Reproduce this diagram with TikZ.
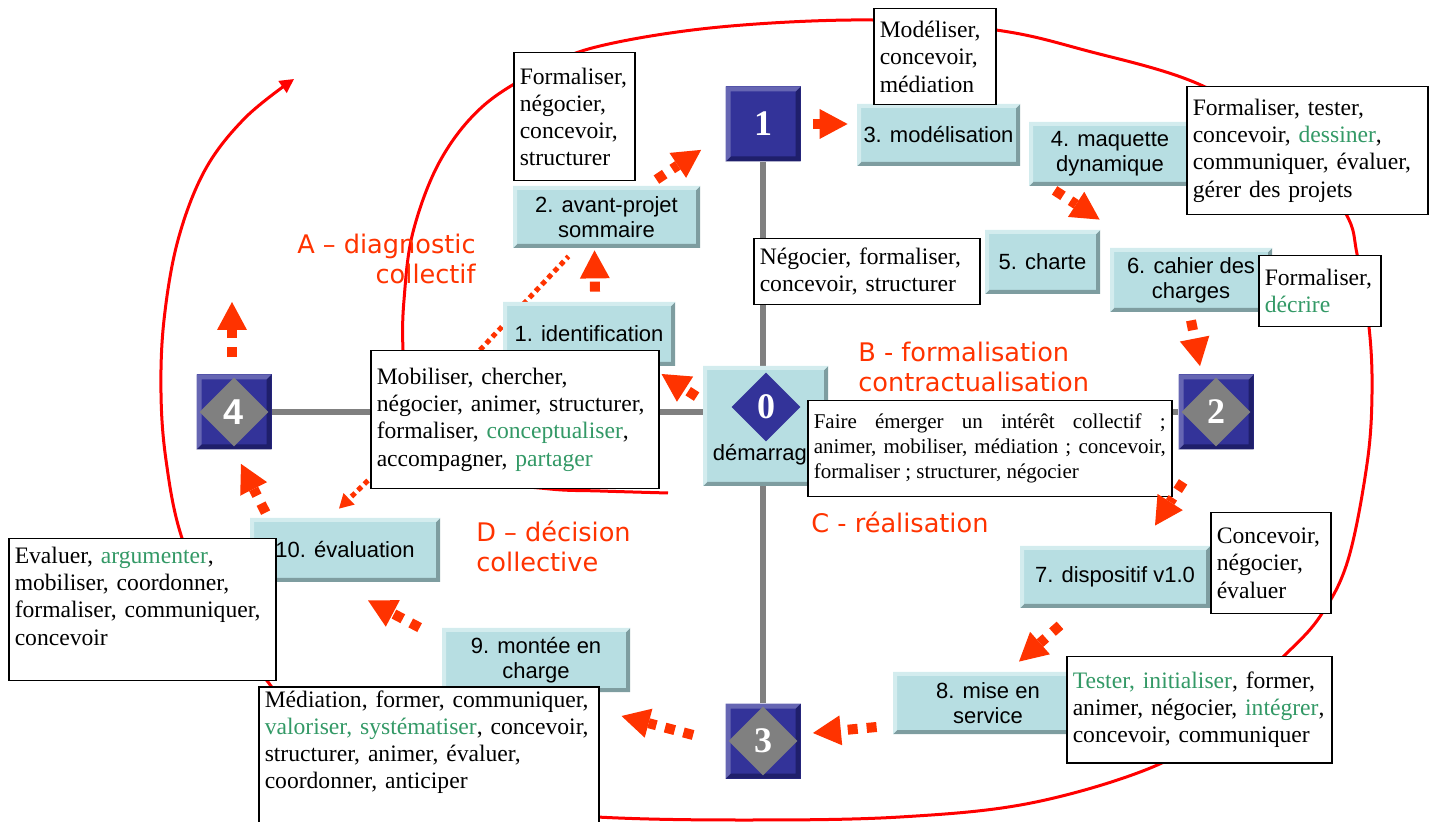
\documentclass[tikz,border=0pt]{standalone}
\usepackage{fontspec}
\setmainfont{Liberation Serif}
\setsansfont{Liberation Sans}
\newfontfamily\phasefont{DejaVu Sans}
\usetikzlibrary{positioning,shapes.geometric,arrows.meta}

\definecolor{navy}{HTML}{333399}
\definecolor{navylight}{HTML}{6666B3}
\definecolor{navydark}{HTML}{1F1F6B}
\definecolor{aqua}{HTML}{B7DEE2}
\definecolor{aqualight}{HTML}{D3ECEE}
\definecolor{aquadark}{HTML}{7E9DA0}
\definecolor{rouge}{HTML}{FF3300}
\definecolor{vert}{HTML}{339966}
\definecolor{gris}{HTML}{808080}

\tikzset{
  bevel/.style n args={3}{path picture={
    \path (path picture bounding box.south west) coordinate (bl)
          (path picture bounding box.north east) coordinate (tr)
          (bl -| tr) coordinate (br) (bl |- tr) coordinate (tl);
    \fill[#2] (bl) -- (br) -- (tr) -- ([shift={(-#3,-#3)}]tr)
      -- ([shift={(-#3,#3)}]br) -- ([shift={(#3,#3)}]bl) -- cycle;
    \fill[#1] (bl) -- (tl) -- (tr) -- ([shift={(-#3,-#3)}]tr)
      -- ([shift={(#3,-#3)}]tl) -- ([shift={(#3,#3)}]bl) -- cycle;
  }},
}

\begin{document}
\begin{tikzpicture}[x=0.5pt, y=-0.5pt,
    carre/.style={fill=navy, bevel={navylight}{navydark}{2.5pt}, minimum size=37.5pt,
      inner sep=0pt, text=white, font=\bfseries\fontsize{18}{18}\selectfont},
    losange/.style={diamond, fill=gris, minimum size=34.5pt, inner sep=0pt,
      text=white, font=\bfseries\fontsize{18}{18}\selectfont},
    etape/.style={fill=aqua, bevel={aqualight}{aquadark}{2pt}, inner sep=0pt,
      align=center, font=\sffamily\fontsize{11}{12.5}\selectfont},
    txtbox/.style={draw, line width=0.75pt, fill=white, anchor=north west, align=left,
      inner xsep=3pt, inner ysep=2pt, font=\fontsize{11.8}{13.6}\selectfont},
    phase/.style={text=rouge, inner sep=0pt, font=\phasefont\fontsize{12.8}{15}\selectfont},
    flux/.style={rouge, line width=5pt, dash pattern=on 5pt off 4.5pt,
      -{Triangle[length=14pt, width=15pt, line width=0pt]}},
    pointille/.style={rouge, line width=2.5pt, dash pattern=on 2.5pt off 2pt},
    ligne/.style={gris, line width=3pt},
    spirale/.style={red, line width=1.5pt, -{Triangle[length=7pt, width=7pt]}}]
  \useasboundingbox (0,0) rectangle (1434,822);
  \clip (0,0) rectangle (1434,822);

  \draw[spirale] plot[smooth, tension=0.6] coordinates {(668,493) (600,491) (550,489)
    (480,479) (430,452) (408,405) (403,350) (404,300) (413,232) (440,161) (482,107)
    (540,70) (600,46) (720,27) (872,20) (996,30) (1084,50) (1203,86) (1300,150)
    (1346,214) (1357,254) (1369,327) (1372,393) (1367,464) (1348,560) (1321,615)
    (1285,655) (1220,715) (1164,762) (1036,802) (900,817) (740,820) (597,817)
    (480,806) (370,765) (300,725) (268,682) (215,615) (181,535) (166,460) (161,393)
    (164,320) (178,240) (205,170) (245,118) (294,79)};

  \node[carre] (s1) at (763,124) {1};
  \node[carre] (s4) at (234,412) {};
  \node[carre] (s2) at (1216,412) {};
  \node[carre] (s3) at (763,741) {};
  \draw[ligne] (s1) -- (s3);
  \draw[ligne] (s4) -- (s2);
  \node[losange] (d4) at (s4) {\sffamily 4};
  \node[losange] (d2) at (s2) {2};
  \node[losange] (d3) at (s3) {3};

  \node[etape, minimum width=62.5pt, minimum height=60pt] (t0) at (765.5,426) {};
  \node[losange, fill=navy] (d0) at (766,407) {0};
  \node[font=\sffamily\fontsize{11}{12.5}\selectfont, inner sep=0pt] (demarrage)
    at (766,455) {démarrage};

  \node[etape, minimum width=93.5pt, minimum height=31pt] (t2) at (606.5,217) {2. avant-projet\\sommaire};
  \coordinate (pied) at (480,350);
  \draw[pointille] (pied) -- ([xshift=-19pt,yshift=-4pt]t2.south);
  \node[etape, minimum width=86pt, minimum height=32pt] (t1) at (589,334) {1. identification};
  \node[etape, minimum width=81.5pt, minimum height=31pt] (t3) at (938.5,135) {3. modélisation};
  \node[etape, minimum width=81pt, minimum height=32pt] (t4) at (1110,154) {4. maquette\\dynamique};
  \node[etape, minimum width=57.5pt, minimum height=32pt] (t5) at (1042.5,262) {5. charte};
  \node[etape, minimum width=81pt, minimum height=32pt] (t6) at (1191,280) {6. cahier des\\charges};
  \node[etape, minimum width=95pt, minimum height=31pt] (t7) at (1115,577) {7. dispositif v1.0};
  \node[etape, minimum width=95pt, minimum height=31pt] (t8) at (988,703) {8. mise en\\service};
  \node[etape, minimum width=94pt, minimum height=32pt] (t9) at (536,660) {9. montée en\\charge};
  \node[etape, minimum width=95pt, minimum height=32pt] (t10) at (345,550) {10. évaluation};

  \node[txtbox, text width=54.5pt, minimum height=64pt] (w1) at (513,52)
    {Formaliser,\\négocier,\\concevoir,\\structurer};
  \node[txtbox, text width=55pt, minimum height=48pt] (w2) at (873,8)
    {Modéliser,\\concevoir,\\médiation};
  \node[txtbox, text width=114.5pt, minimum height=64pt] (w3) at (1186,86)
    {Formaliser, tester,\\concevoir, \textcolor{vert}{dessiner},\\communiquer, évaluer,\\gérer des projets};
  \node[txtbox, text width=107pt, minimum height=33pt] (w4) at (753,238)
    {Négocier, formaliser,\\concevoir, structurer};
  \node[txtbox, text width=55pt, minimum height=35.5pt] (w5) at (1258,255)
    {Formaliser,\\\textcolor{vert}{décrire}};
  \node[txtbox, text width=138pt, minimum height=69pt] (w6) at (370,350)
    {Mobiliser, chercher,\\négocier, animer, structurer,\\formaliser, \textcolor{vert}{conceptualiser},\\accompagner, \textcolor{vert}{partager}};
  \node[txtbox, text width=176pt, minimum height=48pt, align=justify,
    font=\fontsize{10.5}{12.5}\selectfont] (w7) at (807,400)
    {Faire émerger un intérêt collectif ;\linebreak animer, mobiliser, médiation ; concevoir,\linebreak formaliser ; structurer, négocier};
  \node[txtbox, text width=54pt, minimum height=50.5pt] (w8) at (1210,512)
    {Concevoir,\\négocier,\\évaluer};
  \node[txtbox, text width=126.5pt, minimum height=53pt] (w9) at (1066,656)
    {\textcolor{vert}{Tester, initialiser}, former,\\animer, négocier, \textcolor{vert}{intégrer},\\concevoir, communiquer};
  \node[txtbox, text width=127.5pt, minimum height=71pt] (w10) at (8,538)
    {Evaluer, \textcolor{vert}{argumenter},\\mobiliser, coordonner,\\formaliser, communiquer,\\concevoir\\\mbox{}};
  \node[txtbox, text width=164pt] (w11) at (258,686)
    {Médiation, former, communiquer,\\\textcolor{vert}{valoriser, systématiser}, concevoir,\\structurer, animer, évaluer,\\coordonner, anticiper\\\mbox{}\\\mbox{}};

  \node[phase, anchor=east, align=right] (phaseA) at (476,259) {A – diagnostic\\collectif};
  \node[phase, anchor=west, align=left] (phaseB) at (858,367) {B - formalisation\\contractualisation};
  \node[phase, anchor=west] (phaseC) at (811,522) {C - réalisation};
  \node[phase, anchor=west, align=left] (phaseD) at (476,546) {D – décision\\collective};

  \draw[flux, shorten <=6pt, shorten >=4.5pt] (s1.east) -- (s1.east -| t3.west);
  \draw[flux] ([xshift=-22pt,yshift=3pt]t2.north east) -- ([xshift=-12pt,yshift=6pt]s1.south west);
  \draw[flux] ([xshift=3pt,yshift=5pt]t1.north) -- ([xshift=-6pt,yshift=-1pt]t2.south);
  \draw[flux] ([xshift=-3pt,yshift=-15.5pt]t0.north west) -- ([xshift=1pt,yshift=-12pt]w6.north east);
  \draw[flux] ([xshift=13pt,yshift=-2pt]t4.south west) -- ([xshift=-5pt,yshift=14pt]t6.north west);
  \draw[flux] ([yshift=-4pt]t6.south) -- ([xshift=-8pt,yshift=4pt]s2.north);
  \draw[flux] ([xshift=2.5pt,yshift=-16pt]s2.south west) -- ([xshift=20pt,yshift=10pt]t7.north);
  \draw[flux] ([xshift=-27.5pt,yshift=-8.5pt]t7.south) -- ([xshift=15.5pt,yshift=5pt]t8.north);
  \draw[flux] ([xshift=-8pt,yshift=-12pt]t8.west) -- ([xshift=6pt,yshift=4pt]s3.east);
  \draw[flux] ([xshift=-16pt,yshift=3pt]s3.west) -- ([xshift=11pt,yshift=-15pt]w11.north east);
  \draw[flux] ([xshift=-11pt]t9.north west) -- ([xshift=11.5pt,yshift=-9pt]t10.south);
  \draw[flux] ([xshift=8pt,yshift=2.5pt]t10.north west) -- ([xshift=3.5pt,yshift=-7pt]s4.south);
  \coordinate (haut) at (232,302);
  \draw[flux] ([xshift=-1pt,yshift=8.5pt]s4.north) -- (haut);
  \draw[pointille, -{Triangle[length=7pt, width=8pt, line width=0pt]}]
    ([xshift=-1pt,yshift=4.5pt]w6.south west) -- ([xshift=-3pt,yshift=4.5pt]t10.north);
\end{tikzpicture}
\end{document}
